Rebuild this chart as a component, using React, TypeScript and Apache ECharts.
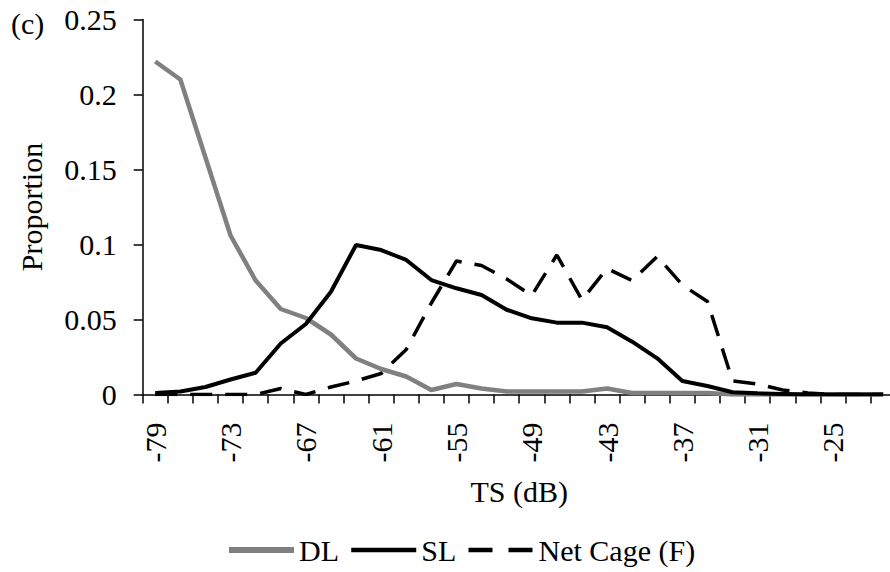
import React, { useEffect, useRef } from "react";
import * as echarts from "echarts";

const categories: string[] = [
  "-79", "-77", "-75", "-73", "-71", "-69", "-67", "-65", "-63", "-61",
  "-59", "-57", "-55", "-53", "-51", "-49", "-47", "-45", "-43", "-41",
  "-39", "-37", "-35", "-33", "-31", "-29", "-27", "-25", "-23", "-21",
];

const dlValues: number[] = [
  0.222, 0.21, 0.158, 0.106, 0.076, 0.057, 0.051, 0.04, 0.024, 0.017,
  0.012, 0.003, 0.007, 0.004, 0.002, 0.002, 0.002, 0.002, 0.004, 0.001,
  0.001, 0.001, 0.001, 0, 0, 0, 0, 0, 0, 0,
];

const slValues: number[] = [
  0.001, 0.002, 0.005, 0.01, 0.0145, 0.034, 0.047, 0.0685, 0.0997, 0.0963,
  0.0897, 0.0763, 0.0708, 0.0663, 0.0565, 0.0508, 0.0479, 0.0479, 0.0448, 0.0352,
  0.0241, 0.009, 0.0057, 0.0015, 0.0008, 0.0004, 0, 0, 0, 0,
];

const netCageValues: number[] = [
  0, 0, 0, 0, 0, 0.004, 0, 0.005, 0.009, 0.014,
  0.03, 0.061, 0.089, 0.086, 0.077, 0.066, 0.093, 0.063, 0.084, 0.076,
  0.092, 0.073, 0.062, 0.009, 0.007, 0.003, 0.001, 0, 0, 0,
];

const seriesNames: string[] = ["DL", "SL", "Net Cage (F)"];

const FONT = "'Liberation Serif', 'Times New Roman', serif";
const FS = 30;

export default function App() {
  const ref = useRef<HTMLDivElement>(null);

  useEffect(() => {
    if (!ref.current) return;
    const chart = echarts.init(ref.current, undefined, { renderer: "svg" });
    chart.setOption({
      animation: false,
      backgroundColor: "#ffffff",
      textStyle: { fontFamily: FONT, color: "#000" },
      grid: { left: 142.7, right: 9.3, top: 19.5, bottom: 177.5, containLabel: false },
      graphic: [
        {
          type: "text",
          left: 11,
          top: 8,
          style: { text: "(c)", font: `${FS}px ${FONT}`, fill: "#000" },
        },
      ],
      legend: {
        data: [
          { name: seriesNames[0], lineStyle: { width: 6, color: "#808080" } },
          { name: seriesNames[1], lineStyle: { width: 4.5, color: "#000" } },
          { name: seriesNames[2], lineStyle: { width: 4.5, color: "#000", type: [24, 16] } },
        ],
        left: 221,
        top: 530,
        itemWidth: 65,
        itemHeight: 1,
        itemGap: 10,
        itemStyle: { opacity: 0 },
        textStyle: { fontFamily: FONT, fontSize: FS, color: "#000" },
      },
      xAxis: {
        type: "category",
        data: categories,
        boundaryGap: true,
        name: "TS (dB)",
        nameLocation: "middle",
        nameGap: 82,
        nameTextStyle: { fontFamily: FONT, fontSize: FS, color: "#000" },
        axisLine: { lineStyle: { color: "#000", width: 1.5 } },
        axisTick: { show: true, interval: 0, length: 9, inside: false, lineStyle: { color: "#000", width: 1.5 } },
        axisLabel: {
          interval: 2,
          rotate: 90,
          margin: 28,
          fontFamily: FONT,
          fontSize: FS,
          color: "#000",
        },
        splitLine: { show: false },
      },
      yAxis: {
        type: "value",
        min: 0,
        max: 0.25,
        interval: 0.05,
        name: "Proportion",
        nameLocation: "middle",
        nameRotate: 90,
        nameGap: 96,
        nameTextStyle: { fontFamily: FONT, fontSize: FS, color: "#000" },
        axisLine: { show: true, lineStyle: { color: "#000", width: 1.5 } },
        axisTick: { show: true, length: 9, inside: false, lineStyle: { color: "#000", width: 1.5 } },
        axisLabel: { margin: 26, fontFamily: FONT, fontSize: FS, color: "#000" },
        splitLine: { show: false },
      },
      series: [
        {
          name: "DL",
          type: "line",
          data: dlValues,
          symbol: "none",
          z: 2,
          lineStyle: { color: "#808080", width: 4.5 },
          itemStyle: { color: "#808080" },
        },
        {
          name: "SL",
          type: "line",
          data: slValues,
          symbol: "none",
          z: 4,
          lineStyle: { color: "#000", width: 4 },
          itemStyle: { color: "#000" },
        },
        {
          name: "Net Cage (F)",
          type: "line",
          data: netCageValues,
          symbol: "none",
          z: 3,
          lineStyle: { color: "#000", width: 3.5, type: [22, 13] },
          itemStyle: { color: "#000" },
        },
      ],
    });
    return () => chart.dispose();
  }, []);

  return (
    <div
      ref={ref}
      style={{ position: "fixed", left: 0, top: 0, width: 905, height: 572, background: "#fff" }}
    />
  );
}
